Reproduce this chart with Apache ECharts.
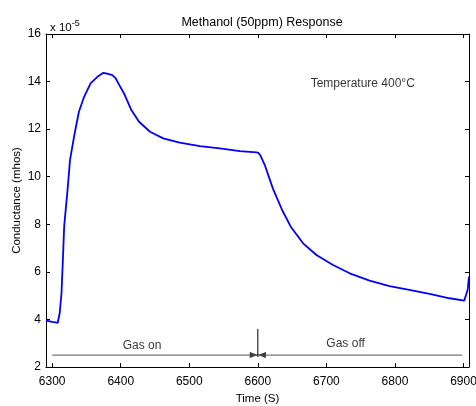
<!DOCTYPE html>
<html><head><meta charset="utf-8">
<script src="https://cdn.jsdelivr.net/npm/echarts@6/dist/echarts.min.js"></script>
<style>html,body{margin:0;padding:0;background:#fff}#c{width:476px;height:406px}</style>
</head><body><div id="c"></div>
<script>
const times = [6291, 6295, 6300, 6305, 6308, 6310, 6311, 6313.6, 6315.6, 6317.5, 6320, 6322, 6326, 6332, 6339, 6346.6, 6356, 6366, 6374.7, 6380, 6387.8, 6392.7, 6398, 6404.8, 6415.5, 6426.7, 6442.7, 6462, 6486, 6515.5, 6544.6, 6573.8, 6598, 6601, 6604, 6610, 6622, 6635.4, 6648, 6666, 6685.5, 6709.6, 6734, 6763, 6792, 6821, 6850.5, 6879.6, 6901, 6906, 6908];
const conductance = [3.95, 3.93, 3.9, 3.88, 3.85, 3.9, 4.27, 5.1, 6.5, 7.9, 8.7, 9.3, 10.7, 11.7, 12.73, 13.36, 13.92, 14.2, 14.37, 14.33, 14.27, 14.13, 13.85, 13.5, 12.8, 12.31, 11.89, 11.61, 11.43, 11.29, 11.19, 11.08, 11.02, 11.0, 10.88, 10.5, 9.5, 8.6, 7.9, 7.2, 6.71, 6.29, 5.94, 5.63, 5.40, 5.24, 5.07, 4.89, 4.79, 5.24, 5.8];
const xTicks = [6300, 6400, 6500, 6600, 6700, 6800, 6900];
const yTicks = [2, 4, 6, 8, 10, 12, 14, 16];
const gasOn = [[6300, 2.5], [6600, 2.5]];
const gasOff = [[6898, 2.5], [6600, 2.5]];
const switchLine = [[6600, 2.42], [6600, 3.6]];
const annotations = [
  {name: 'Gas on', value: [6431, 2.9]},
  {name: 'Gas off', value: [6728, 2.98]},
  {name: 'Temperature 400\u00b0C', value: [6753, 13.9]}
];

const font = '"Liberation Sans", Arial, sans-serif';
const chart = echarts.init(document.getElementById('c'), null, {renderer: 'canvas'});
const xBase = {
  type: 'value', min: 6291, max: 6908,
  axisLine: {show: true, lineStyle: {color: '#000', width: 1}},
  axisTick: {show: true, inside: true, length: 4, customValues: xTicks, lineStyle: {color: '#000'}},
  splitLine: {show: false}
};
const yBase = {
  type: 'value', min: 2, max: 16, interval: 2,
  axisLine: {show: true, lineStyle: {color: '#000', width: 1}},
  axisTick: {show: true, inside: true, length: 4, lineStyle: {color: '#000'}},
  splitLine: {show: false}
};
chart.setOption({
  animation: false,
  backgroundColor: '#fff',
  grid: {left: 46, right: 7, top: 34, bottom: 39, containLabel: false, outerBoundsMode: 'none'},
  title: [
    {text: 'Methanol (50ppm) Response', left: 257, top: 11, textAlign: 'center',
     textStyle: {fontFamily: font, fontSize: 12.5, fontWeight: 'normal', color: '#000'}},
    {text: 'x 10{s|-5}', left: 45, top: 14,
     textStyle: {fontFamily: font, fontSize: 11.5, fontWeight: 'normal', color: '#000',
       rich: {s: {fontFamily: font, fontSize: 9, color: '#000', verticalAlign: 'top', padding: [0, 0, 8, 0]}}}}
  ],
  xAxis: [
    Object.assign({}, xBase, {
      position: 'bottom',
      name: 'Time (S)', nameLocation: 'middle', nameGap: 26,
      nameTextStyle: {fontFamily: font, fontSize: 11.5, color: '#000'},
      axisLabel: {show: true, customValues: xTicks, margin: 9, fontFamily: font, fontSize: 12, color: '#000',
        formatter: v => String(v)}
    }),
    Object.assign({}, xBase, {position: 'top', axisLabel: {show: false}})
  ],
  yAxis: [
    Object.assign({}, yBase, {
      position: 'left',
      name: 'Conductance (mhos)', nameLocation: 'middle', nameGap: 23, nameMoveOverlap: false,
      nameTextStyle: {fontFamily: font, fontSize: 11.5, color: '#000'},
      axisLabel: {show: true, margin: 5, fontFamily: font, fontSize: 12, color: '#000', formatter: v => String(v)}
    }),
    Object.assign({}, yBase, {position: 'right', axisLabel: {show: false}})
  ],
  series: [
    {type: 'line', data: times.map((t, i) => [t, conductance[i]]), showSymbol: false,
     lineStyle: {color: '#0000ff', width: 1.8}, smooth: false, z: 5},
    {type: 'line', data: gasOn, showSymbol: false, lineStyle: {color: '#555', width: 1}, silent: true},
    {type: 'line', data: gasOff, showSymbol: false, lineStyle: {color: '#555', width: 1}, silent: true},
    {type: 'line', data: switchLine, showSymbol: false, lineStyle: {color: '#000', width: 1}, silent: true},
    {type: 'scatter', silent: true, symbol: 'triangle', symbolSize: [6, 8],
     itemStyle: {color: '#000'},
     data: [{value: [6594, 2.5], symbolRotate: -90}, {value: [6606, 2.5], symbolRotate: 90}]},
    {type: 'scatter', silent: true, symbolSize: 0, data: annotations,
     label: {show: true, formatter: p => p.name, position: 'inside', fontFamily: font, fontSize: 12, color: '#000'}}
  ]
});
</script></body></html>
